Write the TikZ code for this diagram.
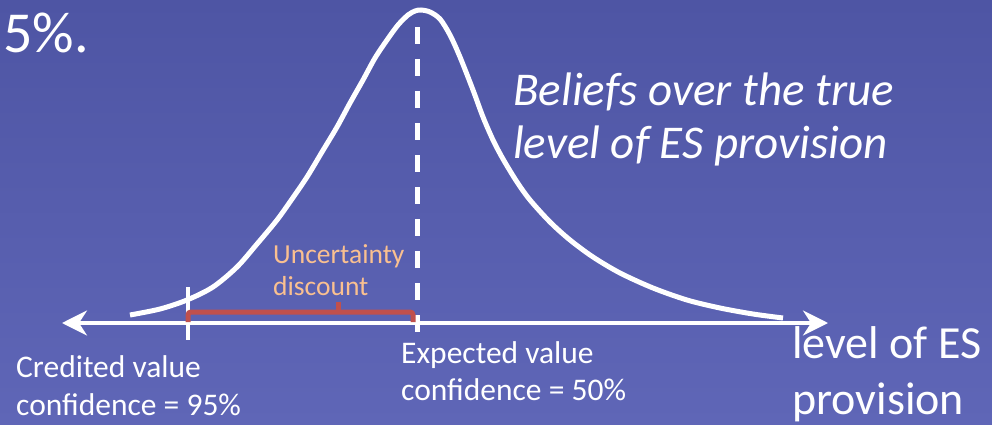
\documentclass[tikz,border=0pt]{standalone}
\usepackage{fontspec}
\setmainfont{Carlito}
\usetikzlibrary{arrows.meta,positioning}

\definecolor{slidetop}{RGB}{78,85,164}
\definecolor{slidebottom}{RGB}{95,102,183}
\definecolor{bracketred}{RGB}{192,80,77}
\definecolor{discountorange}{RGB}{250,192,144}

\tikzset{
  belief/.style={white,line width=5pt},
  axisline/.style={white,line width=3.5pt,
    {Stealth[length=25pt,width=25pt,inset=8pt]}-{Stealth[length=25pt,width=25pt,inset=8pt]}},
  meanline/.style={white,line width=5pt,dash pattern=on 17pt off 15pt},
  credtick/.style={white,line width=4pt},
  discountbrace/.style={bracketred,line width=5pt,rounded corners=3pt},
  slidetext/.style={white,inner sep=0pt,anchor=base west,align=left},
}

\begin{document}
\begin{tikzpicture}[x=1pt,y=-1pt]
\useasboundingbox (0,0) rectangle (992,425);
\shade[top color=slidetop,bottom color=slidebottom] (0,0) rectangle (992,425);
% points of the picture
\coordinate (axisL) at (62,323);
\coordinate (axisR) at (828,323);
\coordinate (meanTop) at (417,27);
\coordinate (meanBot) at (417,338);
\coordinate (credTop) at (188,287);
\coordinate (credBot) at (188,340);
\coordinate (braceL) at (188,322);
\coordinate (braceM) at (338,312);
\coordinate (braceR) at (413,322);
\coordinate (braceTip) at (338,302);
% belief curve
\draw [belief] plot [smooth,tension=0.5] coordinates {
  (130,315) (160,309) (187,300) (213,287) (237,267) (257,244) (277,220)
  (292,199) (307,177) (322,152) (337,127) (350,103) (363,80) (375,58)
  (387,40) (398,25) (408,15) (415,11) (421,10) (430,12) (440,19) (450,35)
  (460,57) (473,90) (483,117) (493,140) (503,159) (517,182) (530,200)
  (550,222) (570,240) (593,257) (620,273) (653,288) (687,300) (720,308)
  (753,314) (783,318)};
% axis, mean and credited value
\draw [axisline] (axisL) -- (axisR);
\draw [meanline] (meanTop) -- (meanBot);
\draw [credtick] (credTop) -- (credBot);
\draw [discountbrace] (braceL) |- (braceM) -| (braceR);
\draw [discountbrace] (braceM) -- (braceTip);
% texts (multi-line nodes sit on their last baseline)
\node [slidetext,font=\fontsize{58}{66}\selectfont] (percent) at (3,53) {5\%.};
\node [slidetext,font=\fontsize{47}{53}\selectfont\itshape] (beliefs) at (513,158)
  {Beliefs over the true\\level of ES provision};
\node [slidetext,discountorange,font=\fontsize{27.5}{32}\selectfont] (discount) at (273,295)
  {Uncertainty\\discount};
\node [slidetext,font=\fontsize{31.5}{38}\selectfont] (credited) at (16,415)
  {Credited value\\confidence = 95\%};
\node [slidetext,font=\fontsize{31.5}{37}\selectfont] (expected) at (401,400)
  {Expected value\\confidence = 50\%};
\node [slidetext,font=\fontsize{46}{56}\selectfont] (axislabel) at (792,414)
  {level of ES\\provision};
\end{tikzpicture}
\end{document}
